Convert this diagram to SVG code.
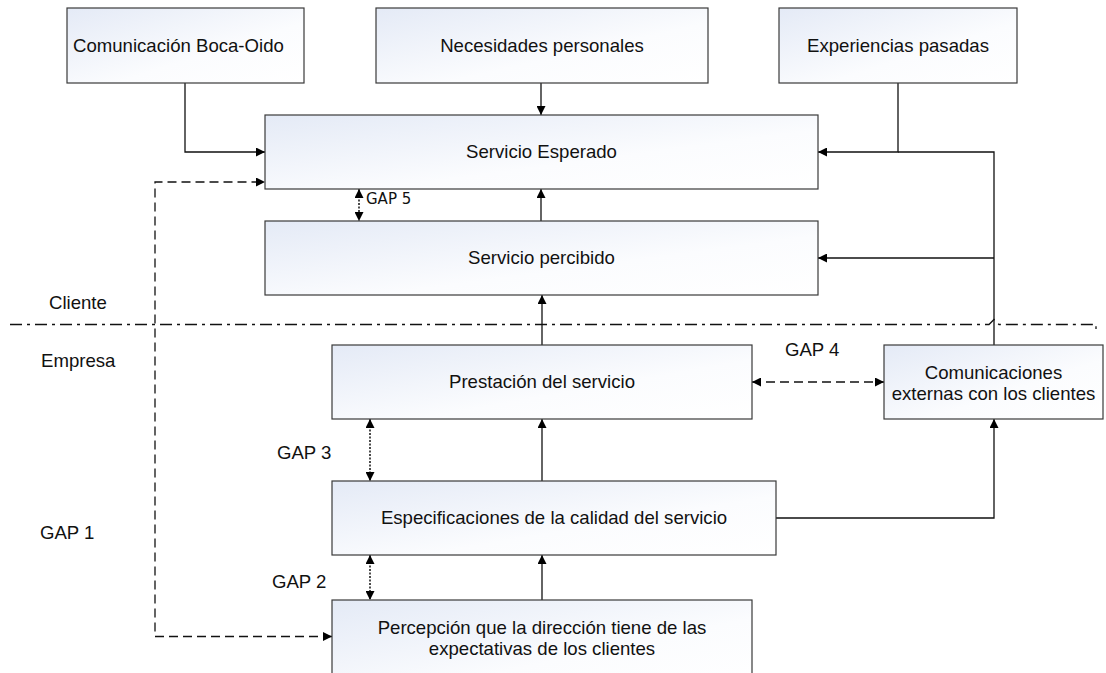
<svg xmlns="http://www.w3.org/2000/svg" width="1106" height="673" viewBox="0 0 1106 673">
<defs>
<linearGradient id="g" x1="0" y1="0" x2="1" y2="1">
<stop offset="0" stop-color="#e4eaf6"/>
<stop offset="0.6" stop-color="#fbfcfe"/>
<stop offset="1" stop-color="#ffffff"/>
</linearGradient>
<marker id="ah" viewBox="0 0 10 10" refX="10" refY="5" markerWidth="10" markerHeight="9" markerUnits="userSpaceOnUse" orient="auto-start-reverse">
<path d="M0,0 L10,5 L0,10 z" fill="#000"/>
</marker>
<style>
.box{fill:url(#g);stroke:#3a3a3a;stroke-width:1.2}
.t{font-family:"Liberation Sans",Arial,sans-serif;font-size:18.6px;fill:#111}
.c{text-anchor:middle}
.g5{font-family:"DejaVu Sans",Verdana,sans-serif;font-size:15px;fill:#111}
.ln{fill:none;stroke:#111;stroke-width:1.3}
.dash{fill:none;stroke:#111;stroke-width:1.3;stroke-dasharray:9 5}
.dot{fill:none;stroke:#111;stroke-width:1.5;stroke-dasharray:2 1.5}
.dd{fill:none;stroke:#111;stroke-width:1.3;stroke-dasharray:12 5 3 5}
</style>
</defs>
<g id="connectors">
<path class="dd" d="M10,324.5 H989 L994,319.5 L999,324.5 H1096 V329"/>
<path class="ln" d="M185,83 V152 H265" marker-end="url(#ah)"/>
<path class="ln" d="M541,83 V115" marker-end="url(#ah)"/>
<path class="ln" d="M898,83 V152 H818" marker-end="url(#ah)"/>
<path class="ln" d="M994,345 V152 H898"/>
<path class="ln" d="M994,258 H818" marker-end="url(#ah)"/>
<path class="ln" d="M541,221 V189" marker-end="url(#ah)"/>
<path class="ln" d="M542,345 V295" marker-end="url(#ah)"/>
<path class="ln" d="M542,481 V419" marker-end="url(#ah)"/>
<path class="ln" d="M542,600 V555" marker-end="url(#ah)"/>
<path class="ln" d="M776,518 H994 V419" marker-end="url(#ah)"/>
<path class="dash" d="M332,636.5 H155 V182 H265" marker-start="url(#ah)" marker-end="url(#ah)"/>
<path class="dash" d="M752,382 H884" marker-start="url(#ah)" marker-end="url(#ah)"/>
<path class="dot" d="M359,189 V221" marker-start="url(#ah)" marker-end="url(#ah)"/>
<path class="dot" d="M370,419 V481" marker-start="url(#ah)" marker-end="url(#ah)"/>
<path class="dot" d="M370,555 V600" marker-start="url(#ah)" marker-end="url(#ah)"/>
</g>
<g id="boca-oido"><rect class="box" x="67" y="8" width="237" height="75"/><text class="t" x="73" y="52">Comunicación Boca-Oido</text></g>
<g id="necesidades"><rect class="box" x="376" y="8" width="332" height="75"/><text class="t c" x="542" y="52">Necesidades personales</text></g>
<g id="experiencias"><rect class="box" x="779" y="8" width="238" height="75"/><text class="t c" x="898" y="52">Experiencias pasadas</text></g>
<g id="esperado"><rect class="box" x="265" y="115" width="553" height="74"/><text class="t c" x="541.5" y="158">Servicio Esperado</text></g>
<g id="percibido"><rect class="box" x="265" y="221" width="553" height="74"/><text class="t c" x="541.5" y="264">Servicio percibido</text></g>
<g id="prestacion"><rect class="box" x="332" y="345" width="420" height="74"/><text class="t c" x="542" y="388">Prestación del servicio</text></g>
<g id="comunicaciones"><rect class="box" x="884" y="345" width="219" height="74"/><text class="t c" x="993.5" y="379">Comunicaciones</text><text class="t c" x="993.5" y="400">externas con los clientes</text></g>
<g id="especificaciones"><rect class="box" x="332" y="481" width="444" height="74"/><text class="t c" x="554" y="524">Especificaciones de la calidad del servicio</text></g>
<g id="percepcion"><rect class="box" x="332" y="600" width="420" height="90"/><text class="t c" x="542" y="634">Percepción que la dirección tiene de las</text><text class="t c" x="542" y="655">expectativas de los clientes</text></g>
<g id="labels">
<text class="t" x="49" y="309">Cliente</text>
<text class="t" x="41" y="367">Empresa</text>
<text class="t" x="40" y="539">GAP 1</text>
<text class="t" x="272" y="588">GAP 2</text>
<text class="t" x="277" y="459">GAP 3</text>
<text class="t" x="785" y="356">GAP 4</text>
<text class="g5" x="366" y="204">GAP 5</text>
</g>
</svg>
